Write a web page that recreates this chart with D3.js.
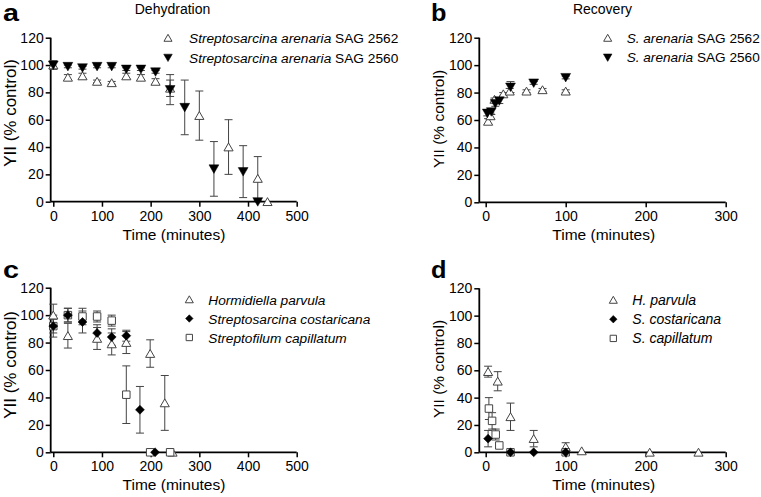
<!DOCTYPE html>
<html><head><meta charset="utf-8">
<script src="https://cdn.jsdelivr.net/npm/d3@7"></script>
<style>
body{margin:0;background:#fff;}
svg{display:block;font-family:"Liberation Sans",Arial,sans-serif;}
</style></head>
<body>
<svg id="chart" width="761" height="497"></svg>
<script>
// ---------- DATA ----------
// Panel a: Dehydration
const aOpenTime = [0,30,60,90,120,150,180,210,240,300,360,420,440];
const aOpenY    = [100,91,92,88,87,92,91,88,83,63,40,17,0];
const aOpenErr  = [3,2,2,1,1,2,2,2,6,18,20,16,0];
const aFillTime = [0,30,60,90,120,150,180,210,240,270,330,390,420];
const aFillY    = [100,99,98,99,99,97,97,95,82,69,24,22,0];
const aFillErr  = [3,1,1,1,1,1,1,1,11,20,20,19,0];
// Panel b: Recovery
const bOpenTime = [3,6,11,22,30,51,71,100];
const bOpenY    = [59,63,75,79,81,81,82,81];
const bOpenErr  = [2,2,1,1,2,1,1,1];
const bFillTime = [2,7,12,17,31,60,100];
const bFillY    = [65,66,72,74,84,87,91];
const bFillErr  = [2,2,2,2,4,1,1];
// Panel c: Dehydration
const cHpTime = [0,30,90,120,150,199,229,245];
const cHpY    = [100,85,83,79,80,72,36,0];
const cHpErr  = [8,9,8,8,8,10,20,0];
const cScTime = [0,30,60,90,120,150,178,209];
const cScY    = [92,100,95,87,84,85,31,0];
const cScErr  = [8,5,8,6,6,4,17,0];
const cCapTime = [0,30,60,90,120,150,199,240];
const cCapY    = [92,100,99,99,96,42,0,0];
const cCapErr  = [5,5,6,4,4,21,0,0];
// Panel d: Recovery
const dHpTime = [3,15,31,60,100,120,205,266];
const dHpY    = [59,52,26,10,4,1,0,0];
const dHpErr  = [4,7,10,6,3,0,0,0];
const dScTime = [3,31,60,100];
const dScY    = [10,0,0,0];
const dScErr  = [6,0,0,0];
const dCapTime = [4,8,12.5,17,31,100];
const dCapY    = [32,23,13,5,0,0];
const dCapErr  = [8,6,4,0,0,0];

const yTicks = [0,20,40,60,80,100,120];
const xTicksLong = [0,100,200,300,400,500];
const xTicksShort = [0,100,200,300];

// ---------- DRAWING ----------
const svg = d3.select("#chart");
const zip = (t,y,e)=>t.map((d,i)=>({x:d,y:y[i],e:e[i]}));

const styleOf = {
  up:{type:d3.symbolTriangle,size:36,leg:28,fill:"#fff",stroke:"#444",sw:1,rot:0,dy:1.2},
  down:{type:d3.symbolTriangle,size:42,leg:32,fill:"#000",stroke:"#000",sw:0.5,rot:180,dy:-1.2},
  diamond:{type:d3.symbolSquare,size:40,leg:28,fill:"#000",stroke:"#000",sw:0.5,rot:45,dy:0},
  square:{type:d3.symbolSquare,size:56,leg:40,fill:"#fff",stroke:"#444",sw:1,rot:0,dy:0}
};

function panel(cfg){
  const g = svg.append("g");
  const x = d3.scaleLinear().domain(cfg.xDomain).range(cfg.xRange);
  const y = d3.scaleLinear().domain([0,120]).range(cfg.yRange);
  const xMax = cfg.xTicks[cfg.xTicks.length-1];
  // axes
  const xa = g.append("g").attr("transform",`translate(0,${cfg.yRange[0]})`)
    .call(d3.axisBottom(x).tickValues(cfg.xTicks).tickSize(5).tickPadding(4).tickSizeOuter(0));
  const ya = g.append("g").attr("transform",`translate(${cfg.xRange[0]},0)`)
    .call(d3.axisLeft(y).tickValues(yTicks).tickSize(5).tickPadding(2).tickSizeOuter(0));
  [xa,ya].forEach(a=>{
    a.select(".domain").attr("stroke","#000").attr("stroke-width",1.8);
    a.selectAll(".tick line").attr("stroke","#000").attr("stroke-width",1.5);
    a.selectAll(".tick text").attr("fill","#000").style("font-size","14px");
  });
  xa.select(".domain").attr("d",`M${cfg.xRange[0]},0H${x(xMax)}`);
  ya.select(".domain").attr("d",`M0,${cfg.yRange[0]}V${y(120)}`);
  // titles
  g.append("text").attr("x",(x(0)+x(xMax))/2+cfg.xTitleShift).attr("y",cfg.yRange[0]+38)
    .attr("text-anchor","middle").style("font-size","15.5px").text("Time (minutes)");
  g.append("text").attr("transform",`translate(${cfg.yTitleX},${cfg.yTitleY}) rotate(-90)`)
    .attr("text-anchor","middle").style("font-size",cfg.yTitleSize+"px").text("YII (% control)");
  g.append("text").attr("transform",`translate(${cfg.letterX},${cfg.letterY}) scale(${cfg.letterSx},1)`)
    .style("font-size","23px").style("font-weight","bold").text(cfg.letter);
  if(cfg.title) g.append("text").attr("x",cfg.titleX).attr("y",cfg.titleY).attr("text-anchor","middle")
    .style("font-size","14px").text(cfg.title);
  // error bars
  cfg.series.forEach(s=>{
    const data = zip(s.t,s.y,s.e);
    const eg = g.append("g").attr("stroke","#444").attr("stroke-width",1);
    data.filter(d=>d.e>0).forEach(d=>{
      const x0=x(d.x), y1=y(d.y+d.e), y2=y(Math.max(0,d.y-d.e));
      eg.append("line").attr("x1",x0).attr("x2",x0).attr("y1",y1).attr("y2",y2);
      eg.append("line").attr("x1",x0-4).attr("x2",x0+4).attr("y1",y1).attr("y2",y1);
      if(d.y-d.e>0.5) eg.append("line").attr("x1",x0-4).attr("x2",x0+4).attr("y1",y2).attr("y2",y2);
    });
  });
  // markers
  cfg.series.forEach(s=>{
    const data = zip(s.t,s.y,s.e);
    const st = styleOf[s.shape];
    g.append("g").selectAll("path").data(data).join("path")
      .attr("d",d3.symbol().type(st.type).size(st.size))
      .attr("transform",d=>`translate(${x(d.x)},${y(d.y)+st.dy}) rotate(${st.rot})`)
      .attr("fill",st.fill).attr("stroke",st.stroke).attr("stroke-width",st.sw);
  });
  // legend
  cfg.series.forEach(s=>{
    const st = styleOf[s.shape];
    const ly = cfg.legY + s.leg*cfg.legDy;
    g.append("path").attr("d",d3.symbol().type(st.type).size(st.leg))
      .attr("transform",`translate(${cfg.legX},${ly+st.dy*0.8}) rotate(${st.rot})`)
      .attr("fill",st.fill).attr("stroke",st.stroke).attr("stroke-width",st.sw);
    const tx = g.append("text").attr("x",cfg.legX+cfg.legTx).attr("y",ly+5).style("font-size",cfg.legFs+"px");
    s.label.forEach(part=>tx.append("tspan").style("font-style",part[1]?"italic":"normal").text(part[0]));
  });
}

panel({
  xDomain:[-5.3,500], xRange:[50.7,296.7], yRange:[201.7,37.7], xTicks:xTicksLong, xTitleShift:-1,
  yTitleX:15.5, yTitleY:113, yTitleSize:17, letter:"a", letterX:3, letterY:21, letterSx:1.25,
  title:"Dehydration", titleX:172.5, titleY:14,
  legX:168, legY:38, legDy:19.6, legTx:21, legFs:13.7,
  series:[
    {t:aOpenTime,y:aOpenY,e:aOpenErr,shape:"up",leg:0,label:[["Streptosarcina arenaria",true],[" SAG 2562",false]]},
    {t:aFillTime,y:aFillY,e:aFillErr,shape:"down",leg:1,label:[["Streptosarcina arenaria",true],[" SAG 2560",false]]}
  ]
});
panel({
  xDomain:[-8,300], xRange:[479.3,725.7], yRange:[202.3,37.7], xTicks:xTicksShort, xTitleShift:-2,
  yTitleX:443.5, yTitleY:119, yTitleSize:15.5, letter:"b", letterX:431, letterY:21, letterSx:1.1,
  title:"Recovery", titleX:602.5, titleY:14,
  legX:607.7, legY:38, legDy:19.4, legTx:19, legFs:13.6,
  series:[
    {t:bOpenTime,y:bOpenY,e:bOpenErr,shape:"up",leg:0,label:[["S. arenaria",true],[" SAG 2562",false]]},
    {t:bFillTime,y:bFillY,e:bFillErr,shape:"down",leg:1,label:[["S. arenaria",true],[" SAG 2560",false]]}
  ]
});
panel({
  xDomain:[-5.3,500], xRange:[50.7,296.7], yRange:[452.3,287.7], xTicks:xTicksLong, xTitleShift:-1,
  yTitleX:15.5, yTitleY:365, yTitleSize:17, letter:"c", letterX:3, letterY:278, letterSx:1.25,
  title:null,
  legX:189.3, legY:299.5, legDy:19, legTx:19, legFs:13.7,
  series:[
    {t:cHpTime,y:cHpY,e:cHpErr,shape:"up",leg:0,label:[["Hormidiella parvula",true]]},
    {t:cCapTime,y:cCapY,e:cCapErr,shape:"square",leg:2,label:[["Streptofilum capillatum",true]]},
    {t:cScTime,y:cScY,e:cScErr,shape:"diamond",leg:1,label:[["Streptosarcina costaricana",true]]}
  ]
});
panel({
  xDomain:[-8,300], xRange:[479.3,725.7], yRange:[452.3,288.3], xTicks:xTicksShort, xTitleShift:-2,
  yTitleX:443.5, yTitleY:369, yTitleSize:15.5, letter:"d", letterX:431, letterY:278, letterSx:1.1,
  title:null,
  legX:613.3, legY:300, legDy:19.2, legTx:19, legFs:14,
  series:[
    {t:dHpTime,y:dHpY,e:dHpErr,shape:"up",leg:0,label:[["H. parvula",true]]},
    {t:dCapTime,y:dCapY,e:dCapErr,shape:"square",leg:2,label:[["S. capillatum",true]]},
    {t:dScTime,y:dScY,e:dScErr,shape:"diamond",leg:1,label:[["S. costaricana",true]]}
  ]
});
</script>
</body></html>
